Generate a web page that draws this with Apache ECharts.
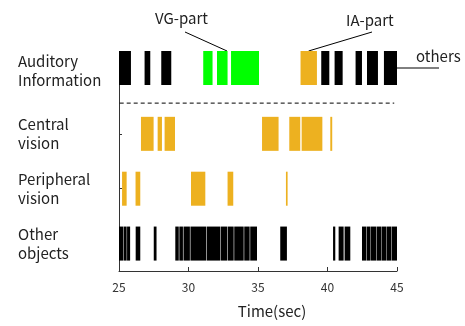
<!DOCTYPE html>
<html><head><meta charset="utf-8">
<script src="https://cdn.jsdelivr.net/npm/echarts@6/dist/echarts.min.js"></script>
<style>html,body{margin:0;padding:0;background:#fff}#c{width:465px;height:326px}</style>
</head><body><div id="c"></div>
<script>
// Rows (y value of each row)
const rowNames = ['Other\nobjects', 'Peripheral\nvision', 'Central\nvision', 'Auditory\nInformation'];
const rowValues = [1, 2, 3, 4.2];
const xTicks = [25, 30, 35, 40, 45];

// Intervals [start, end] in seconds
const auditoryOthers = [[25.0,25.86],[26.84,27.25],[28.04,28.76],[39.55,40.13],[40.51,41.09],[42.02,42.48],[42.84,43.63],[44.06,45.0]];
const auditoryVG = [[31.06,31.73],[32.05,32.81],[33.06,35.07]];
const auditoryIA = [[38.06,39.24]];
const centralVision = [[26.58,27.49],[27.78,28.09],[28.28,29.03],[35.29,36.48],[37.25,38.04],[38.14,39.63],[40.2,40.34]];
const peripheralVision = [[25.22,25.55],[26.19,26.53],[30.18,31.21],[32.81,33.22],[37.01,37.13]];
const otherObjects = [[25.0,25.3],[25.33,25.55],[25.58,25.8],[26.2,26.53],[27.5,27.7],[29.05,29.3],[29.34,29.6],[29.64,30.1],[30.14,31.26],[31.3,32.3],[32.34,32.77],[32.81,33.25],[33.29,33.97],[34.01,34.4],[34.44,34.93],[36.6,37.08],[40.4,40.56],[40.8,41.16],[41.23,41.64],[42.48,42.8],[42.83,43.1],[43.13,43.5],[43.53,43.85],[43.88,44.25],[44.28,44.6],[44.63,45.0]];
const separatorY = 3.56;

const BLACK = '#000000', GREEN = '#00ff00', ORANGE = '#edb120';
function items(list, row, color) {
  return list.map(d => ({ value: [d[0], d[1], row], itemStyle: { color: color } }));
}
const data = [].concat(
  items(auditoryOthers, rowValues[3], BLACK),
  items(auditoryVG, rowValues[3], GREEN),
  items(auditoryIA, rowValues[3], ORANGE),
  items(centralVision, rowValues[2], ORANGE),
  items(peripheralVision, rowValues[1], ORANGE),
  items(otherObjects, rowValues[0], BLACK)
);
const BAR_H = 0.62;

const chart = echarts.init(document.getElementById('c'), null, { renderer: 'canvas' });
const labelMap = { 1: rowNames[0], 2: rowNames[1], 3: rowNames[2], 4.15: rowNames[3] };
chart.setOption({
  animation: false,
  textStyle: { fontFamily: 'Noto Sans CJK JP' },
  grid: { left: 119, right: 68, top: 68, bottom: 55, containLabel: false },
  xAxis: {
    type: 'value', min: 25, max: 45, interval: 5,
    axisLine: { show: true, lineStyle: { color: '#333', width: 1 } },
    axisTick: { show: true, inside: true, length: 4, lineStyle: { color: '#333' } },
    axisLabel: { color: '#333', fontSize: 12, margin: 10, fontFamily: 'Noto Sans CJK JP' },
    splitLine: { show: false }
  },
  yAxis: {
    type: 'value', min: 0.5, max: 4.2,
    axisLine: { show: true, lineStyle: { color: '#333', width: 1 } },
    axisTick: { show: true, inside: true, length: 3, customValues: [1, 2, 3], lineStyle: { color: '#333' } },
    axisLabel: {
      customValues: [1, 2, 3, 4.15],
      formatter: v => labelMap[v] || '',
      align: 'left', margin: 101, color: '#222', fontSize: 15, lineHeight: 19,
      fontFamily: 'Noto Sans CJK JP'
    },
    splitLine: { show: false }
  },
  series: [{
    type: 'custom',
    clip: false,
    renderItem: function (params, api) {
      const s = api.coord([api.value(0), api.value(2) + BAR_H / 2]);
      const e = api.coord([api.value(1), api.value(2) - BAR_H / 2]);
      return {
        type: 'rect',
        shape: { x: s[0], y: s[1], width: Math.max(e[0] - s[0], 1), height: e[1] - s[1] },
        style: { fill: api.visual('color') }
      };
    },
    encode: { x: [0, 1], y: 2 },
    data: data
  }, {
    type: 'line',
    data: [[25.05, separatorY], [44.8, separatorY]],
    symbol: 'none',
    lineStyle: { color: '#000', width: 1, type: [4, 3] },
    silent: true
  }]
});

// annotations
const vgTop = chart.convertToPixel({ gridIndex: 0 }, [32.77, rowValues[3] + BAR_H / 2]);
const iaTop = chart.convertToPixel({ gridIndex: 0 }, [38.64, rowValues[3] + BAR_H / 2]);
const othersEnd = chart.convertToPixel({ gridIndex: 0 }, [45.0, rowValues[3]]);
chart.setOption({
  graphic: [
    { type: 'line', shape: { x1: 185, y1: 32, x2: vgTop[0], y2: vgTop[1] }, style: { stroke: '#000', lineWidth: 1 } },
    { type: 'text', x: 155, y: 18, style: { text: 'VG-part', fill: '#222', font: '15px "Noto Sans CJK JP"', textVerticalAlign: 'middle' } },
    { type: 'line', shape: { x1: 372, y1: 32, x2: iaTop[0], y2: iaTop[1] }, style: { stroke: '#000', lineWidth: 1 } },
    { type: 'text', x: 346, y: 20, style: { text: 'IA-part', fill: '#222', font: '15px "Noto Sans CJK JP"', textVerticalAlign: 'middle' } },
    { type: 'line', shape: { x1: othersEnd[0], y1: othersEnd[1], x2: 439, y2: othersEnd[1] }, style: { stroke: '#000', lineWidth: 1 } },
    { type: 'text', x: 416, y: 56, style: { text: 'others', fill: '#222', font: '15px "Noto Sans CJK JP"', textVerticalAlign: 'middle' } },
    { type: 'text', x: 272, y: 311, style: { text: 'Time(sec)', fill: '#222', font: '15px "Noto Sans CJK JP"', textAlign: 'center', textVerticalAlign: 'middle' } }
  ]
});
</script></body></html>
